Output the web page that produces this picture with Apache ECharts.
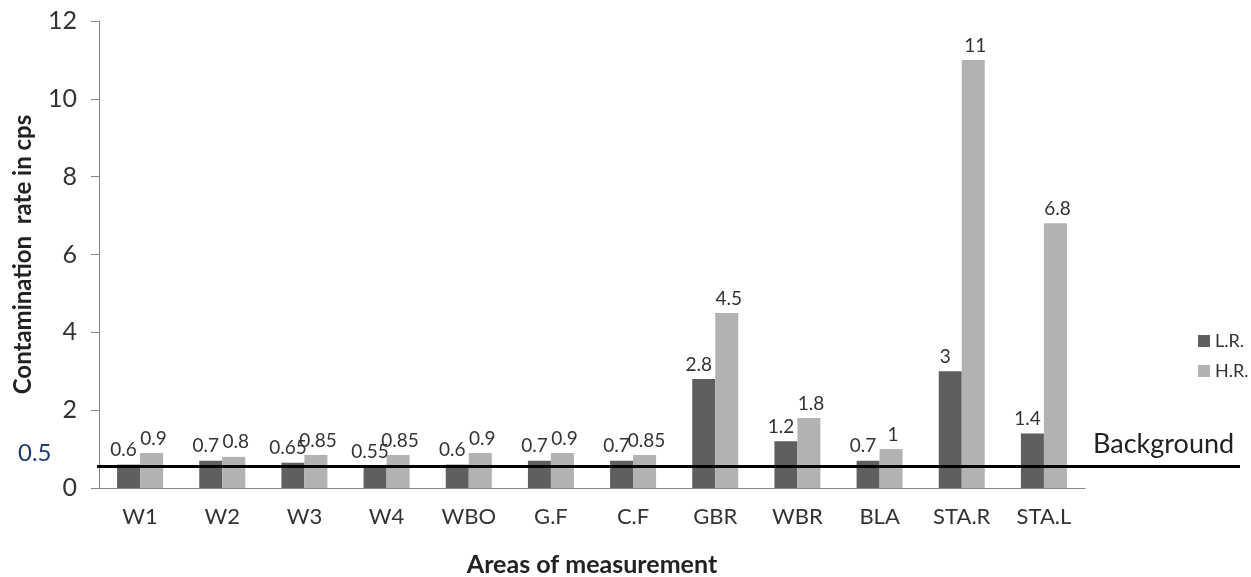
<!DOCTYPE html>
<html><head><meta charset="utf-8">
<script src="https://cdn.jsdelivr.net/npm/echarts@6/dist/echarts.min.js"></script>
<style>html,body{margin:0;padding:0;background:#fff}#c{width:1251px;height:577px}</style>
</head><body><div id="c"></div>
<script>
const categories = ['W1','W2','W3','W4','WBO','G.F','C.F','GBR','WBR','BLA','STA.R','STA.L'];
const lrValues = [0.6,0.7,0.65,0.55,0.6,0.7,0.7,2.8,1.2,0.7,3,1.4];
const hrValues = [0.9,0.8,0.85,0.85,0.9,0.9,0.85,4.5,1.8,1,11,6.8];
const backgroundLevel = 0.5;
const FONT = 'Lato';
const chart = echarts.init(document.getElementById('c'));
const lbl = {show:true, position:'top', distance:5, color:'#333', fontSize:19, fontFamily:FONT};
chart.setOption({
  animation:false,
  textStyle:{fontFamily:FONT},
  grid:{left:99, right:166, top:21, bottom:89, containLabel:false, outerBoundsMode:'none'},
  legend:{orient:'vertical', left:1193, top:327, itemWidth:12, itemHeight:12, itemGap:12,
    textStyle:{fontSize:18, color:'#333', fontFamily:FONT}, icon:'rect',
    data:['L.R.','H.R.']},
  xAxis:{type:'category', data:categories,
    axisLine:{lineStyle:{color:'#868686'}}, axisTick:{length:8, lineStyle:{color:'#868686'}},
    axisLabel:{color:'#333', fontSize:22, fontFamily:FONT, margin:18},
    name:'Areas of measurement', nameLocation:'middle', nameGap:64,
    nameTextStyle:{fontSize:25, fontWeight:'bold', color:'#222', fontFamily:FONT}},
  yAxis:{type:'value', min:0, max:12, interval:2,
    axisLine:{show:true, lineStyle:{color:'#868686'}}, axisTick:{show:true, length:8, lineStyle:{color:'#868686'}},
    splitLine:{show:false},
    axisLabel:{color:'#333', fontSize:25, fontFamily:FONT, margin:22},
    name:'Contamination  rate in cps', nameLocation:'middle', nameGap:64,
    nameTextStyle:{fontSize:24, fontWeight:'bold', color:'#222', fontFamily:FONT}},
  series:[
    {name:'L.R.', type:'bar', data:lrValues, barWidth:23, barGap:'0%', itemStyle:{color:'#5f5f5f'},
      label:Object.assign({}, lbl, {offset:[-5,0]})},
    {name:'H.R.', type:'bar', data:hrValues, barWidth:23, itemStyle:{color:'#b2b2b2'},
      label:Object.assign({}, lbl, {offset:[2,0]})}
  ]
});
const y = chart.convertToPixel({yAxisIndex:0}, backgroundLevel);
chart.setOption({graphic:[
  {type:'line', shape:{x1:97, y1:y-2, x2:1240, y2:y-2}, style:{stroke:'#000', lineWidth:3}, z:100},
  {type:'text', left:1093, top:y-38, style:{text:'Background', fontSize:27, fill:'#222', fontFamily:FONT}, z:100},
  {type:'text', left:18, top:y-27, style:{text:String(backgroundLevel), fontSize:24, fill:'#1f3a6e', fontFamily:FONT}, z:100}
]});
</script></body></html>
